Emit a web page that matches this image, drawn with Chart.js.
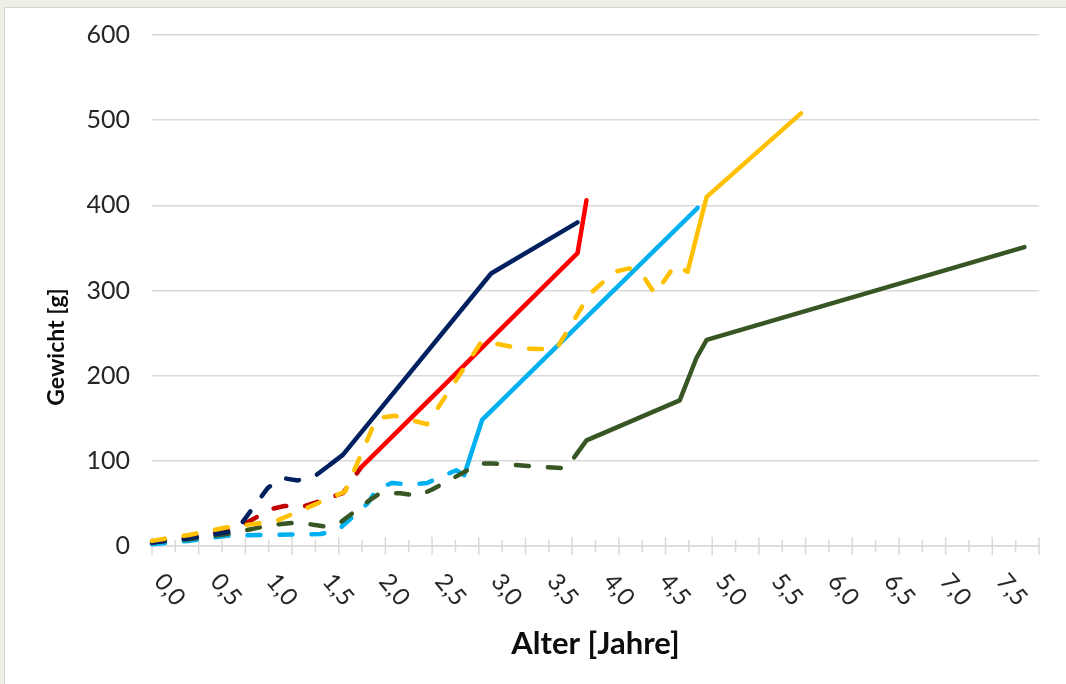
<!DOCTYPE html>
<html lang="de">
<head>
<meta charset="UTF-8">
<script src="https://cdn.jsdelivr.net/npm/chart.js"></script>
<title>Gewicht nach Alter</title>
<style>
  html, body { margin: 0; padding: 0; }
  body { width: 1066px; height: 684px; background: #efeee7; position: relative; overflow: hidden; }
  .painel { position: absolute; left: 4px; top: 7px; width: 1080px; height: 700px; background: #fff; border: 1px solid #d6d6d6; }
  .chart-box { position: absolute; left: 0; top: 0; width: 1066px; height: 684px; }
</style>
</head>
<body>
<div class="painel"></div>
<div class="chart-box">
  <canvas id="gewichtChart"></canvas>
</div>

<script>
  // Alter [Jahre] / Gewicht [g] - gestrichelt = Jugendphase, durchgezogen = danach
  const yellowDashX = [0, 0.33, 0.67, 1.1, 1.72, 2.0, 2.16, 2.45, 2.94, 3.27, 3.6, 3.9, 4.12, 4.25, 4.37, 4.48, 4.66, 4.77];
  const yellowDashY = [6, 13, 22, 29, 64, 150, 153, 143, 241, 232, 231, 296, 322, 326, 318, 296, 330, 322];
  const yellowX = [4.77, 4.94, 5.78];
  const yellowY = [322, 410, 508];

  const navyDashX = [0, 0.33, 0.75, 1.03, 1.15, 1.3, 1.45, 1.58];
  const navyDashY = [4, 9, 18, 68, 80, 77, 82, 95];
  const navyX = [1.58, 1.7, 3.02, 3.79];
  const navyY = [95, 107, 320, 380];

  const redDashX = [0, 0.33, 0.72, 0.92, 1.05, 1.18, 1.34, 1.7, 1.86];
  const redDashY = [4, 10, 19, 33, 43, 47, 46, 62, 92];
  const redX = [1.86, 3.79, 3.87];
  const redY = [92, 344, 406];

  const greenDashX = [0, 0.33, 0.67, 0.93, 1.08, 1.25, 1.38, 1.54, 1.67, 1.92, 2.03, 2.21, 2.37, 2.49, 2.77, 2.92, 3.03, 3.35, 3.72];
  const greenDashY = [5, 8, 14, 21, 25, 27, 26, 23, 27, 52, 62, 62, 59, 66, 86, 97, 97, 94, 91];
  const greenX = [3.76, 3.87, 4.7, 4.85, 4.94, 7.77];
  const greenY = [104, 124, 171, 221, 242, 351];

  const blueDashX = [0, 0.33, 0.67, 0.95, 1.5, 1.65, 1.92, 2.01, 2.14, 2.3, 2.45, 2.71, 2.78];
  const blueDashY = [2, 6, 12, 13, 14, 18, 50, 68, 74, 72, 74, 89, 83];
  const blueX = [2.78, 2.94, 4.86];
  const blueY = [83, 148, 397];

  const xTickValues = [0, 0.5, 1, 1.5, 2, 2.5, 3, 3.5, 4, 4.5, 5, 5.5, 6, 6.5, 7, 7.5];
  const xTickLabels = ['0,0', '0,5', '1,0', '1,5', '2,0', '2,5', '3,0', '3,5', '4,0', '4,5', '5,0', '5,5', '6,0', '6,5', '7,0', '7,5'];
  const X_MAX = 7.9;
  const Y_MAX = 600;

  function punkte(xs, ys) {
    return xs.map((x, i) => ({ x: x, y: ys[i] }));
  }

  function linie(xs, ys, cor, tracejado) {
    return {
      data: punkte(xs, ys),
      borderColor: cor,
      borderWidth: 4.5,
      borderDash: tracejado ? [13, 19] : [],
      borderCapStyle: 'round',
      borderJoinStyle: 'round',
      pointRadius: 0,
      tension: 0,
      fill: false,
      clip: 8
    };
  }

  // Teilstriche, gedrehte Beschriftung und y-Titel selbst zeichnen
  const achsenPlugin = {
    id: 'achsen',
    beforeDatasetsDraw(chart) {
      const ctx = chart.ctx;
      const xs = chart.scales.x;
      const ys = chart.scales.y;
      const y0 = ys.getPixelForValue(0);
      ctx.save();
      ctx.strokeStyle = '#d9d9d9';
      ctx.lineWidth = 1.5;
      for (let i = 0; i <= 38; i++) {
        const px = xs.getPixelForValue(X_MAX * i / 38);
        const len = i % 2 == 0 ? 9 : 6;
        ctx.beginPath();
        ctx.moveTo(px, y0 - len);
        ctx.lineTo(px, y0 + len);
        ctx.stroke();
      }

      ctx.fillStyle = '#262626';
      ctx.font = '24px Lato';
      ctx.textAlign = 'left';
      ctx.textBaseline = 'middle';
      for (let i = 0; i < xTickValues.length; i++) {
        const px = xs.getPixelForValue(xTickValues[i]);
        ctx.save();
        ctx.translate(px + 7, y0 + 31);
        ctx.rotate(50 * Math.PI / 180);
        ctx.fillText(xTickLabels[i], 0, 0);
        ctx.restore();
      }

      ctx.fillStyle = '#0d0d0d';
      ctx.font = 'bold 23px Lato';
      ctx.textAlign = 'center';
      ctx.translate(57, 347);
      ctx.rotate(-Math.PI / 2);
      ctx.fillText('Gewicht [g]', 0, 0);
      ctx.restore();
    }
  };

  const config = {
    type: 'line',
    data: {
      datasets: [
        linie(yellowX, yellowY, '#ffc000', false),
        linie(yellowDashX, yellowDashY, '#ffc000', true),
        linie(navyX, navyY, '#002060', false),
        linie(navyDashX, navyDashY, '#002060', true),
        linie(redX, redY, '#ff0000', false),
        linie(redDashX, redDashY, '#c00000', true),
        linie(greenDashX, greenDashY, '#375623', true),
        linie(greenX, greenY, '#375623', false),
        linie(blueX, blueY, '#00b0f0', false),
        linie(blueDashX, blueDashY, '#00b0f0', true)
      ]
    },
    options: {
      responsive: true,
      maintainAspectRatio: false,
      animation: false,
      layout: { padding: { top: 4, right: 27, left: 0, bottom: 0 } },
      plugins: {
        legend: { display: false },
        tooltip: { enabled: false }
      },
      scales: {
        x: {
          type: 'linear',
          min: 0,
          max: X_MAX,
          ticks: { display: false },
          grid: { display: false },
          border: { display: true, color: '#d9d9d9', width: 1.5 },
          title: {
            display: true,
            text: 'Alter [Jahre]',
            color: '#0d0d0d',
            font: { family: 'Lato', size: 31, weight: 'bold' },
            padding: { top: 0, bottom: 21 }
          },
          afterFit(scale) { scale.height = 138; }
        },
        y: {
          min: 0,
          max: Y_MAX,
          ticks: {
            stepSize: 100,
            color: '#262626',
            font: { family: 'Lato', size: 25, lineHeight: 1.04 },
            padding: 22
          },
          grid: { color: '#d9d9d9', lineWidth: 1.5, drawTicks: false },
          border: { display: false },
          afterFit(scale) { scale.width = 152; }
        }
      }
    },
    plugins: [achsenPlugin]
  };

  let gewichtChart = new Chart(document.getElementById('gewichtChart'), config);
</script>
</body>
</html>
